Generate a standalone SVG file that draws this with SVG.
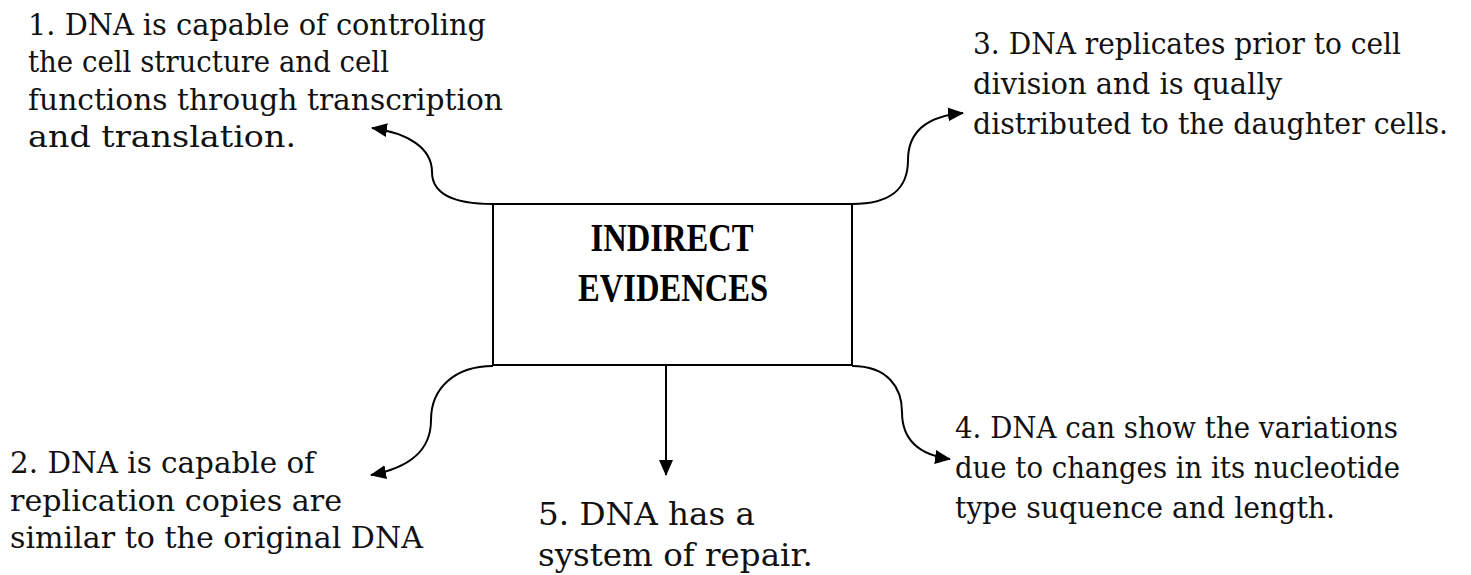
<svg xmlns="http://www.w3.org/2000/svg" width="1471" height="575" viewBox="0 0 1471 575">
  <style>
    .t { font-family: "DejaVu Serif", "Liberation Serif", serif; font-size: 29px; fill: #111; }
    .big { font-family: "DejaVu Serif", "Liberation Serif", serif; font-size: 32.5px; fill: #111; }
    .title { font-family: "Liberation Serif", "DejaVu Serif", serif; font-size: 39px; font-weight: bold; fill: #000; text-anchor: middle; }
    .conn { fill: none; stroke: #000; stroke-width: 2; }
    .box { fill: #fff; stroke: #000; stroke-width: 2; }
  </style>
  <defs>
    <marker id="arrow" viewBox="0 0 16 16" refX="15" refY="8" markerWidth="16" markerHeight="16" markerUnits="userSpaceOnUse" orient="auto">
      <path d="M0,1 L16,8 L0,15 z" fill="#000"/>
    </marker>
  </defs>
  <rect width="1471" height="575" fill="#fff"/>

  <g id="connectors">
    <path class="conn" marker-end="url(#arrow)" d="M 493 204 C 455 204, 432 195, 432 172 C 432 148, 408 133, 372 128"/>
    <path class="conn" marker-end="url(#arrow)" d="M 852 204 C 892 204, 908 188, 908 160 C 908 130, 930 116, 963 113"/>
    <path class="conn" marker-end="url(#arrow)" d="M 493 366 C 455 366, 431 388, 431 420 C 431 452, 408 468, 371 475"/>
    <path class="conn" marker-end="url(#arrow)" d="M 852 366 C 888 366, 902 388, 902 412 C 902 440, 920 455, 950 459"/>
    <path class="conn" marker-end="url(#arrow)" d="M 666 366 L 666 475"/>
  </g>

  <g id="center">
    <rect class="box" x="493" y="204" width="359" height="161"/>
    <text class="title" x="672" y="251" textLength="163" lengthAdjust="spacingAndGlyphs">INDIRECT</text>
    <text class="title" x="673" y="301" textLength="190" lengthAdjust="spacingAndGlyphs">EVIDENCES</text>
  </g>

  <g id="n1">
    <text class="t" x="28" y="35" textLength="458" lengthAdjust="spacingAndGlyphs">1. DNA is capable of controling</text>
    <text class="t" x="28" y="72" textLength="361" lengthAdjust="spacingAndGlyphs">the cell structure and cell</text>
    <text class="t" x="28" y="110" textLength="475" lengthAdjust="spacingAndGlyphs">functions through transcription</text>
    <text class="t" x="28" y="147" textLength="268" lengthAdjust="spacingAndGlyphs">and translation.</text>
  </g>

  <g id="n2">
    <text class="t" x="10" y="473" textLength="305" lengthAdjust="spacingAndGlyphs">2. DNA is capable of</text>
    <text class="t" x="10" y="511" textLength="332" lengthAdjust="spacingAndGlyphs">replication copies are</text>
    <text class="t" x="10" y="548" textLength="413" lengthAdjust="spacingAndGlyphs">similar to the original DNA</text>
  </g>

  <g id="n3">
    <text class="t" x="973" y="54" textLength="428" lengthAdjust="spacingAndGlyphs">3. DNA replicates prior to cell</text>
    <text class="t" x="973" y="94" textLength="309" lengthAdjust="spacingAndGlyphs">division and is qually</text>
    <text class="t" x="973" y="134" textLength="475" lengthAdjust="spacingAndGlyphs">distributed to the daughter cells.</text>
  </g>

  <g id="n4">
    <text class="t" x="955" y="438" textLength="443" lengthAdjust="spacingAndGlyphs">4. DNA can show the variations</text>
    <text class="t" x="955" y="478" textLength="445" lengthAdjust="spacingAndGlyphs">due to changes in its nucleotide</text>
    <text class="t" x="955" y="518" textLength="380" lengthAdjust="spacingAndGlyphs">type suquence and length.</text>
  </g>

  <g id="n5">
    <text class="big" x="538" y="525" textLength="217" lengthAdjust="spacingAndGlyphs">5. DNA has a</text>
    <text class="big" x="538" y="566">system of repair.</text>
  </g>
</svg>
